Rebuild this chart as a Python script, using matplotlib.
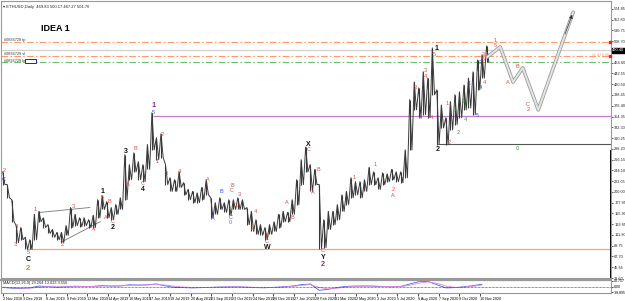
import numpy as np
import pandas as pd
import matplotlib
matplotlib.use("Agg")
import matplotlib.pyplot as plt
import matplotlib.transforms as mtransforms
from matplotlib.patches import Rectangle

plt.rcParams['font.family'] = ['Liberation Sans', 'DejaVu Sans']

# weekly samples of ETHUSD daily chart, x = days since 2 Nov 2018
start = pd.Timestamp("2018-11-02")
week_day = np.arange(108) * 7

high = [241, 215, 184, 131, 127, 107, 102, 154, 160, 147,
        133, 123, 117, 117, 131, 168, 154, 147, 147, 143,
        152, 184, 192, 180, 168, 174, 188, 276, 256, 280,
        262, 256, 297, 362, 311, 319, 256, 229, 225, 241,
        219, 205, 201, 198, 209, 225, 188, 178, 188, 178,
        184, 184, 188, 184, 168, 160, 143, 133, 127, 133,
        139, 154, 160, 158, 184, 225, 266, 292, 256, 246,
        215, 143, 160, 160, 174, 194, 201, 229, 221, 221,
        225, 250, 241, 229, 239, 237, 246, 241, 241, 286,
        389, 425, 413, 446, 433, 495, 409, 378, 352, 385,
        399, 405, 419, 433, 446, 470, 481, 499]
low = [215, 188, 139, 96, 102, 82, 82, 102, 139, 127,
       115, 107, 102, 96, 111, 127, 131, 129, 131, 127,
       127, 147, 164, 147, 143, 154, 164, 184, 225, 241,
       225, 221, 246, 286, 266, 270, 215, 201, 201, 209,
       194, 184, 178, 178, 184, 194, 147, 154, 164, 158,
       152, 164, 164, 164, 133, 119, 113, 111, 102, 113,
       119, 127, 139, 139, 154, 174, 215, 241, 201, 215,
       84, 86, 123, 133, 143, 160, 174, 188, 194, 188,
       201, 215, 215, 205, 215, 221, 225, 221, 219, 229,
       286, 368, 352, 358, 352, 399, 297, 331, 297, 327,
       338, 352, 368, 372, 358, 409, 433, 466]

# oscillator sub-window, every two weeks
osc_day = np.arange(54) * 14
osc_main = [-5, -10, -12, -8, 5, 2, -3, 0, 4, 2, 3, 8, 5, 6, 14, 12, 14, 20,
            6, -4, -6, -8, -6, -4, -2, -1, 0, -3, -6, -7, -4, 0, 5, 15, 20, -25,
            -18, -5, 3, 5, 6, 4, 2, 0, 2, 20, 36, 38, 15, -8, -6, 0, 8, 18]
osc_signal = [-3, -6, -9, -10, -4, 0, 0, -1, 1, 2, 2, 5, 6, 6, 10, 12, 13, 16,
              12, 3, -2, -5, -6, -5, -3, -2, -1, -2, -4, -6, -5, -2, 2, 9, 16, -5,
              -15, -10, -2, 2, 4, 5, 3, 1, 1, 10, 25, 34, 25, 5, -4, -3, 3, 12]

# projected path
proj_day = [750, 770, 790, 805, 829, 883]
proj_price = [476, 497, 425, 454, 368, 568]

# horizontal levels
tp_level, sl_level, buy_level, bid = 507, 478, 466, 490.40
purple_level, purple_from = 356, 233
gray_level, gray_from = 299, 674
orange_level, orange_from = 82, 38

# triangle trendlines
tri_upper = ([58, 135], [158, 168])
tri_lower = ([92, 151], [98, 139])

date_labels = ["2 Nov 2018", "3 Dec 2018", "8 Jan 2019", "9 Feb 2019", "13 Mar 2019",
               "14 Apr 2019", "16 May 2019", "17 Jun 2019", "19 Jul 2019", "20 Aug 2019",
               "21 Sep 2019", "23 Oct 2019", "24 Nov 2019", "26 Dec 2019", "27 Jan 2020",
               "28 Feb 2020", "31 Mar 2020", "2 May 2020", "3 Jun 2020", "5 Jul 2020",
               "6 Aug 2020", "7 Sep 2020", "9 Oct 2020", "10 Nov 2020"]

red, blue, green, purple, orange = '#e8453c', '#3348e0', '#30a030', '#8a2a9a', '#f08030'

red_labels = [("2", 2, 244), ("4", 22, 129), ("3", 19, 92), ("5", 39, 76),
              ("1", 50, 164), ("2", 92, 92), ("3", 109, 170), ("4", 140, 123),
              ("5", 154, 188), ("A", 160, 147), ("B", 165, 180), ("C", 171, 139),
              ("A", 194, 215), ("B", 205, 288), ("C", 216, 217),
              ("1", 239, 262), ("2", 247, 317), ("3", 253, 237), ("4", 274, 241),
              ("A", 318, 225), ("B", 355, 213), ("C", 355, 203), ("0", 353, 137),
              ("1", 361, 172), ("3", 366, 194), ("4", 391, 160), ("3", 386, 125),
              ("5", 409, 111), ("C", 409, 99), ("A", 440, 178), ("B", 448, 147),
              ("C", 473, 286), ("A", 480, 198), ("B", 488, 246), ("C", 496, 80),
              ("1", 544, 229), ("1", 576, 256), ("2", 604, 205), ("A", 604, 192),
              ("3", 638, 413), ("4", 646, 352), ("3", 654, 448), ("4", 654, 436),
              ("4", 663, 352), ("5", 668, 481), ("1", 688, 382), ("2", 691, 301),
              ("4", 745, 425), ("3", 744, 481), ("5", 744, 472),
              ("1", 762, 511), ("5", 762, 499), ("A", 782, 425), ("B", 797, 456),
              ("C", 813, 380), ("2", 813, 368)]
blue_labels = [("C", 2, 226), ("5", 233, 362), ("A", 326, 145), ("B", 339, 201),
               ("C", 353, 147), ("5", 734, 356), ("1", 722, 423), ("3", 739, 464),
               ("4", 739, 413)]
green_labels = [("1", 700, 368), ("2", 705, 321), ("3", 713, 385), ("4", 716, 348),
                ("0", 796, 288)]
black_labels = [("C", 39, 62), ("1", 154, 201), ("2", 171, 127), ("3", 191, 282),
                ("4", 217, 205), ("W", 409, 86), ("X", 473, 297), ("Y", 496, 66),
                ("1", 671, 493), ("2", 674, 286)]
purple_labels = [("1", 233, 376), ("2", 496, 52)]
orange_labels = [("2", 39, 43)]

fig = plt.figure(figsize=(6.25, 3.01), dpi=100)
ax = fig.add_axes([0.0016, 0.0764, 0.976, 0.9203])
ax2 = fig.add_axes([0.0016, 0.0266, 0.976, 0.0432])

# price as jagged high/low trace
zz_x, zz_y = [], []
for d, h, l in zip(week_day, high, low):
    zz_x += [d, d + 3.5]
    zz_y += [h, l]
ax.plot(zz_x, zz_y, color='#3a3a3a', lw=0.7, zorder=3)
ax.vlines(week_day, low, high, color='#3a3a3a', lw=0.8, zorder=3)

# levels
dashdot = (0, (6, 2, 1.5, 2))
ax.axhline(tp_level, color='#ff9a66', lw=0.8, ls=dashdot, zorder=2)
ax.axhline(sl_level, color='#ff9a66', lw=0.8, ls=dashdot, zorder=2)
ax.axhline(buy_level, color='#6cbf6c', lw=0.8, ls=dashdot, zorder=2)
ax.axhline(bid, color='#d0d0d0', lw=0.9, zorder=1)
ax.hlines(purple_level, purple_from, 945, color='#c47dd0', lw=0.9, zorder=2)
ax.hlines(gray_level, gray_from, 945, color='#555555', lw=0.8, zorder=2)
ax.hlines(orange_level, orange_from, 945, color='#f0a878', lw=0.9, zorder=2)
ax.plot(*tri_upper, color='#777777', lw=0.6, zorder=2)
ax.plot(*tri_lower, color='#777777', lw=0.6, zorder=2)

# projected path with arrow
ax.plot(proj_day, proj_price, color='#9c9c9c', lw=2.6, solid_capstyle='round', zorder=4)
ax.plot(proj_day, proj_price, color='#e4e4e4', lw=1.4, solid_capstyle='round', zorder=4)
ax.annotate("", xy=(proj_day[-1], proj_price[-1]), xytext=(proj_day[-2] + 40, proj_price[-2] + 150),
            arrowprops=dict(arrowstyle='-|>', color='#333333', lw=0.5, mutation_scale=5), zorder=5)

# wave labels
for group, col, size, weight in [(red_labels, red, 4.0, 'normal'),
                                 (blue_labels, blue, 4.0, 'normal'),
                                 (green_labels, green, 4.0, 'normal'),
                                 (black_labels, '#111111', 5.0, 'bold'),
                                 (purple_labels, purple, 5.2, 'bold'),
                                 (orange_labels, orange, 5.8, 'bold')]:
    for t, d, p in group:
        ax.text(d, p, t, color=col, fontsize=size, fontweight=weight,
                ha='center', va='center', zorder=6)

ax.text(81, 534, "IDEA 1", fontsize=6.5, fontweight='bold', ha='center', va='center')
ax.text(0.004, 0.985, "\u25be ETHUSD,Daily  469.83 500.17 467.27 501.70", transform=ax.transAxes,
        fontsize=3.0, va='top', ha='left', color='#222222')
ax.text(2, tp_level + 4, "#0836729 tp", fontsize=2.8, color='#333333', va='center')
ax.text(2, sl_level + 5, "#0836729 sl", fontsize=2.8, color='#333333', va='center')
ax.text(2, buy_level + 3, "#0836729 buy", fontsize=2.8, color='#333333', va='center')
ax.add_patch(Rectangle((37, 463), 16, 9, facecolor='#bbbbbb', edgecolor='none', zorder=5))
ax.add_patch(Rectangle((35, 465), 16, 8, facecolor='white', edgecolor='#1a2a9a', lw=0.7, zorder=6))
ax.text(938, sl_level + 3, "sl: 478.00", fontsize=2.8, color='#ff9a66', ha='right', va='center')

trans = mtransforms.blended_transform_factory(ax.transAxes, ax.transData)
for lvl in (tp_level, sl_level):
    ax.plot([0.999], [lvl], marker='s', ms=1.6, color='#ee2222', transform=trans, clip_on=False, zorder=7)
ax.text(1.002, bid, f"{bid:.2f}", transform=trans, fontsize=2.9, color='white', va='center', ha='left',
        bbox=dict(boxstyle='square,pad=0.15', fc='black', ec='black'), clip_on=False, zorder=8)
ax.plot([1.0, 1.0], [0.0, 0.46], transform=ax.transAxes, color='black', lw=1.4, clip_on=False)

ax.set_xlim(-2.6, 941.6)
ax.set_ylim(25, 591)
ax.yaxis.tick_right()
yt = 23.60 + 22.05 * np.arange(26)
ax.set_yticks(yt[np.abs(yt - bid) > 8])
ax.yaxis.set_major_formatter(matplotlib.ticker.FormatStrFormatter('%.2f'))
ax.tick_params(axis='y', labelsize=2.8, length=1.5, width=0.5, pad=0.8, colors='#222222')
ax.set_xticks([])
for s in ax.spines.values():
    s.set_color('#999999')
    s.set_linewidth(0.8)

# oscillator window
ax2.plot(osc_day, osc_main, color='#4a5cf0', lw=0.6)
ax2.plot(osc_day, osc_signal, color='#e08ad8', lw=0.6)
ax2.axhline(0, color='#222222', lw=0.5, ls=(0, (1, 1)))
ax2.text(0.004, 0.93, "MACD(12,26,9) 23.264 13.023 3.556", transform=ax2.transAxes,
         fontsize=2.8, va='top', ha='left', color='#222222')
ax2.set_xlim(-2.6, 941.6)
ax2.set_ylim(-44, 48)
ax2.yaxis.tick_right()
ax2.set_yticks([43.757, 0, -38.895])
ax2.set_yticklabels(["43.757", "0.00", "-38.895"])
ax2.tick_params(axis='y', labelsize=2.5, length=1.2, width=0.5, pad=0.8)
tick_pos = [(pd.to_datetime(s, format="%d %b %Y") - start).days for s in date_labels]
ax2.set_xticks(tick_pos)
ax2.set_xticklabels(date_labels, ha='left')
ax2.tick_params(axis='x', labelsize=2.7, length=2, width=0.5, pad=1)
for s in ax2.spines.values():
    s.set_color('#999999')
    s.set_linewidth(0.8)
ax2.spines['top'].set_linewidth(1.6)

fig.savefig("out.png", dpi=100)
